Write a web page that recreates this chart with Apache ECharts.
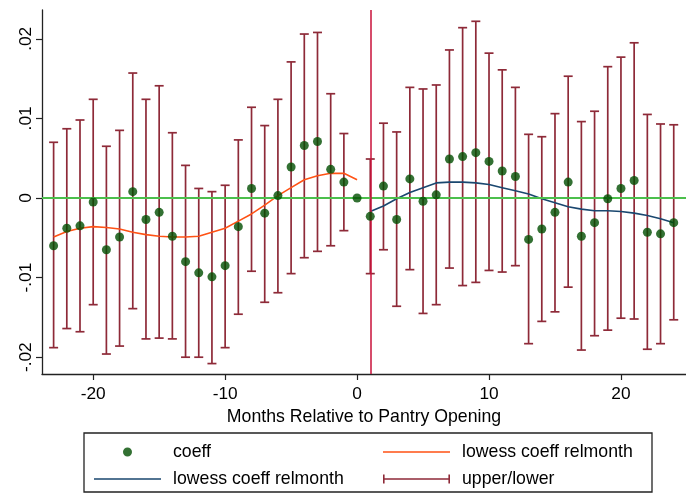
<!DOCTYPE html>
<html>
<head>
<meta charset="utf-8">
<script src="https://cdn.jsdelivr.net/npm/echarts@6/dist/echarts.min.js"></script>
<style>
html,body{margin:0;padding:0;background:#fff;}
#chart{width:686px;height:494px;}
</style>
</head>
<body>
<div id="chart"></div>
<script>
// ---- data ----
const relmonth = [-23,-22,-21,-20,-19,-18,-17,-16,-15,-14,-13,-12,-11,-10,-9,-8,-7,-6,-5,-4,-3,-2,-1,0,
                  1,2,3,4,5,6,7,8,9,10,11,12,13,14,15,16,17,18,19,20,21,22,23,24];
const coeff = [-0.0060,-0.0038,-0.0035,-0.0005,-0.0065,-0.0049,0.0008,-0.0027,-0.0018,-0.0048,-0.0080,-0.0094,-0.0099,-0.0085,-0.0036,0.0012,-0.0019,0.0003,0.0039,0.0066,0.0071,0.0036,0.0020,0,
               -0.0023,0.0015,-0.0027,0.0024,-0.0004,0.0004,0.0049,0.0052,0.0057,0.0046,0.0034,0.0027,-0.0052,-0.0039,-0.0018,0.0020,-0.0048,-0.0031,-0.0001,0.0012,0.0022,-0.0043,-0.0045,-0.0031];
const upper = [0.0070,0.0087,0.0098,0.0124,0.0065,0.0085,0.0157,0.0124,0.0141,0.0082,0.0041,0.0012,0.0008,0.0016,0.0073,0.0114,0.0091,0.0124,0.0171,0.0206,0.0208,0.0131,0.0081,null,
               0.0049,0.0094,0.0083,0.0139,0.0137,0.0142,0.0186,0.0214,0.0222,0.0182,0.0161,0.0139,0.0080,0.0077,0.0106,0.0153,0.0096,0.0109,0.0165,0.0177,0.0195,0.0105,0.0093,0.0092];
const lower = [-0.0188,-0.0164,-0.0168,-0.0134,-0.0196,-0.0186,-0.0139,-0.0177,-0.0176,-0.0177,-0.0200,-0.0200,-0.0208,-0.0188,-0.0146,-0.0092,-0.0131,-0.0119,-0.0095,-0.0075,-0.0067,-0.0060,-0.0041,null,
               -0.0095,-0.0065,-0.0136,-0.0090,-0.0145,-0.0134,-0.0088,-0.0110,-0.0106,-0.0091,-0.0093,-0.0085,-0.0183,-0.0155,-0.0143,-0.0112,-0.0191,-0.0173,-0.0166,-0.0151,-0.0152,-0.0190,-0.0183,-0.0153];
const preMonths = [-23,-22,-21,-20,-19,-18,-17,-16,-15,-14,-13,-12,-11,-10,-9,-8,-7,-6,-5,-4,-3,-2,-1,0];
const lowessPre = [-0.0049,-0.0042,-0.0038,-0.0036,-0.0037,-0.0039,-0.0043,-0.0046,-0.0048,-0.0049,-0.0049,-0.0048,-0.0043,-0.0038,-0.0029,-0.0020,-0.0009,0.0003,0.0013,0.0023,0.0028,0.0031,0.0031,0.0023];
const postMonths = [1,2,3,4,5,6,7,8,9,10,11,12,13,14,15,16,17,18,19,20,21,22,23,24];
const lowessPost = [-0.0017,-0.0010,-0.0001,0.0007,0.0013,0.0019,0.0020,0.0020,0.0019,0.0017,0.0013,0.0009,0.0005,-0.0001,-0.0006,-0.0011,-0.0014,-0.0016,-0.0016,-0.0017,-0.0019,-0.0022,-0.0026,-0.0031];
const xTicks = [-20,-10,0,10,20];
const yTicks = [-0.02,-0.01,0,0.01,0.02];
const yTickLabels = ['-.02','-.01','0','.01','.02'];
const xLine = 1;
const yLine = 0;
const legendNames = {coeff:'coeff', lowA:'lowess coeff relmonth', lowB:'lowess coeff relmonth', rcap:'upper/lower'};

// ---- styles ----
const FONT = 'Liberation Sans, Arial, sans-serif';
const C_DOT = '#004d00';
const C_BAR = '#8e2a38';
const C_ORANGE = '#ff5215';
const C_NAVY = '#1a476f';

const pts = relmonth.map((m,i)=>[m, coeff[i]]);
const bars = relmonth.map((m,i)=>[m, lower[i], upper[i]]).filter(d=>d[1]!==null && d[2]!==null);
const preLine = preMonths.map((m,i)=>[m, lowessPre[i]]);
const postLine = postMonths.map((m,i)=>[m, lowessPost[i]]);

// legend icons (67 x 9 boxes; tiny corner specks fix the bounding box)
const BOX = 'M0,0h0.01v0.01h-0.01zM66.99,8.99h0.01v0.01h-0.01z';
const ICON_DOT = 'path://' + BOX + 'M29,4.5a4.5,4.5 0 1,0 9,0a4.5,4.5 0 1,0 -9,0z';
const ICON_LINE = 'path://' + BOX + 'M0,3.7h67v1.6h-67z';
const ICON_RCAP = 'path://M0,0h1.6v9h-1.6zM0,3.7h67v1.6h-67zM65.4,0h1.6v9h-1.6z';

const chart = echarts.init(document.getElementById('chart'), null, {renderer:'canvas'});
const mkText = () => ({fontFamily: FONT, fontSize: 17.7, color:'#000', padding:[0,0,0,7]});
const legendBase = {orient:'vertical', top:443, padding:0, height:60, itemWidth:67, itemHeight:9, itemGap:9,
  selectedMode:false, inactiveColor:'#000'};
chart.setOption({
  animation:false,
  backgroundColor:'#fff',
  grid:{left:42, right:-10, top:10, bottom:120, containLabel:false},
  xAxis:{
    type:'value', min:-23.88, max:24.93,
    axisLine:{onZero:false, lineStyle:{color:'#222', width:1.3}},
    axisTick:{show:true, length:6, customValues:xTicks, lineStyle:{color:'#222', width:1.2}},
    axisLabel:{customValues:xTicks, fontFamily:FONT, fontSize:17.3, color:'#000', margin:12,
      formatter:v=>String(v)},
    splitLine:{show:false},
    name:'Months Relative to Pantry Opening', nameLocation:'middle', nameGap:29,
    nameTextStyle:{fontFamily:FONT, fontSize:17.7, color:'#000'}
  },
  yAxis:{
    type:'value', min:-0.02211, max:0.02362,
    axisLine:{show:true, onZero:false, lineStyle:{color:'#222', width:1.3}},
    axisTick:{show:true, length:6, customValues:yTicks, lineStyle:{color:'#222', width:1.2}},
    axisLabel:{customValues:yTicks, rotate:90, fontFamily:FONT, fontSize:17.3, color:'#000', margin:7,
      formatter:v=>{const i=yTicks.findIndex(t=>Math.abs(t-v)<1e-9); return i>=0?yTickLabels[i]:'';}},
    splitLine:{show:false}
  },
  legend:[
    Object.assign({}, legendBase, {left:94, textStyle:mkText(),
      data:[{name:'coeff', icon:ICON_DOT, textStyle:mkText()}, {name:'lowB', icon:ICON_LINE, textStyle:mkText()}],
      formatter:n=>legendNames[n] || n}),
    Object.assign({}, legendBase, {left:383, textStyle:mkText(),
      data:[{name:'lowA', icon:ICON_LINE, textStyle:mkText()}, {name:'rcap', icon:ICON_RCAP, textStyle:mkText()}],
      formatter:n=>legendNames[n] || n})
  ],
  graphic:[{type:'rect', shape:{x:84, y:433, width:568, height:59}, style:{fill:'none', stroke:'#222', lineWidth:1.3}, silent:true}],
  series:[
    {
      name:'rcap', type:'custom', z:2, data:bars, encode:{x:0, y:[1,2]},
      itemStyle:{color:C_BAR},
      renderItem:(params, api)=>{
        const x = api.value(0), lo = api.value(1), hi = api.value(2);
        const t = api.coord([x, hi]), b = api.coord([x, lo]);
        const w = 4.5;
        const st = {stroke:C_BAR, lineWidth:1.7, fill:null};
        return {type:'group', children:[
          {type:'line', shape:{x1:t[0], y1:t[1], x2:b[0], y2:b[1]}, style:st},
          {type:'line', shape:{x1:t[0]-w, y1:t[1], x2:t[0]+w, y2:t[1]}, style:st},
          {type:'line', shape:{x1:b[0]-w, y1:b[1], x2:b[0]+w, y2:b[1]}, style:st}
        ]};
      }
    },
    {name:'lowA', type:'line', z:3, data:preLine, symbol:'none', showSymbol:false, smooth:false,
     lineStyle:{color:C_ORANGE, width:1.6}, itemStyle:{color:C_ORANGE},
     markLine:{silent:true, symbol:['none','none'], label:{show:false}, animation:false,
        data:[
          {yAxis:yLine, lineStyle:{color:'#4cbf4c', width:2, type:'solid'}},
          {xAxis:xLine, lineStyle:{color:'#c8103a', width:1.5, type:'solid'}}
        ]}},
    {name:'lowB', type:'line', z:3, data:postLine, symbol:'none', showSymbol:false, smooth:false,
     lineStyle:{color:C_NAVY, width:1.6}, itemStyle:{color:C_NAVY}},
    {name:'coeff', type:'scatter', z:5, data:pts, symbol:'circle', symbolSize:9,
     itemStyle:{color:C_DOT}}
  ]
});
</script>
</body>
</html>
